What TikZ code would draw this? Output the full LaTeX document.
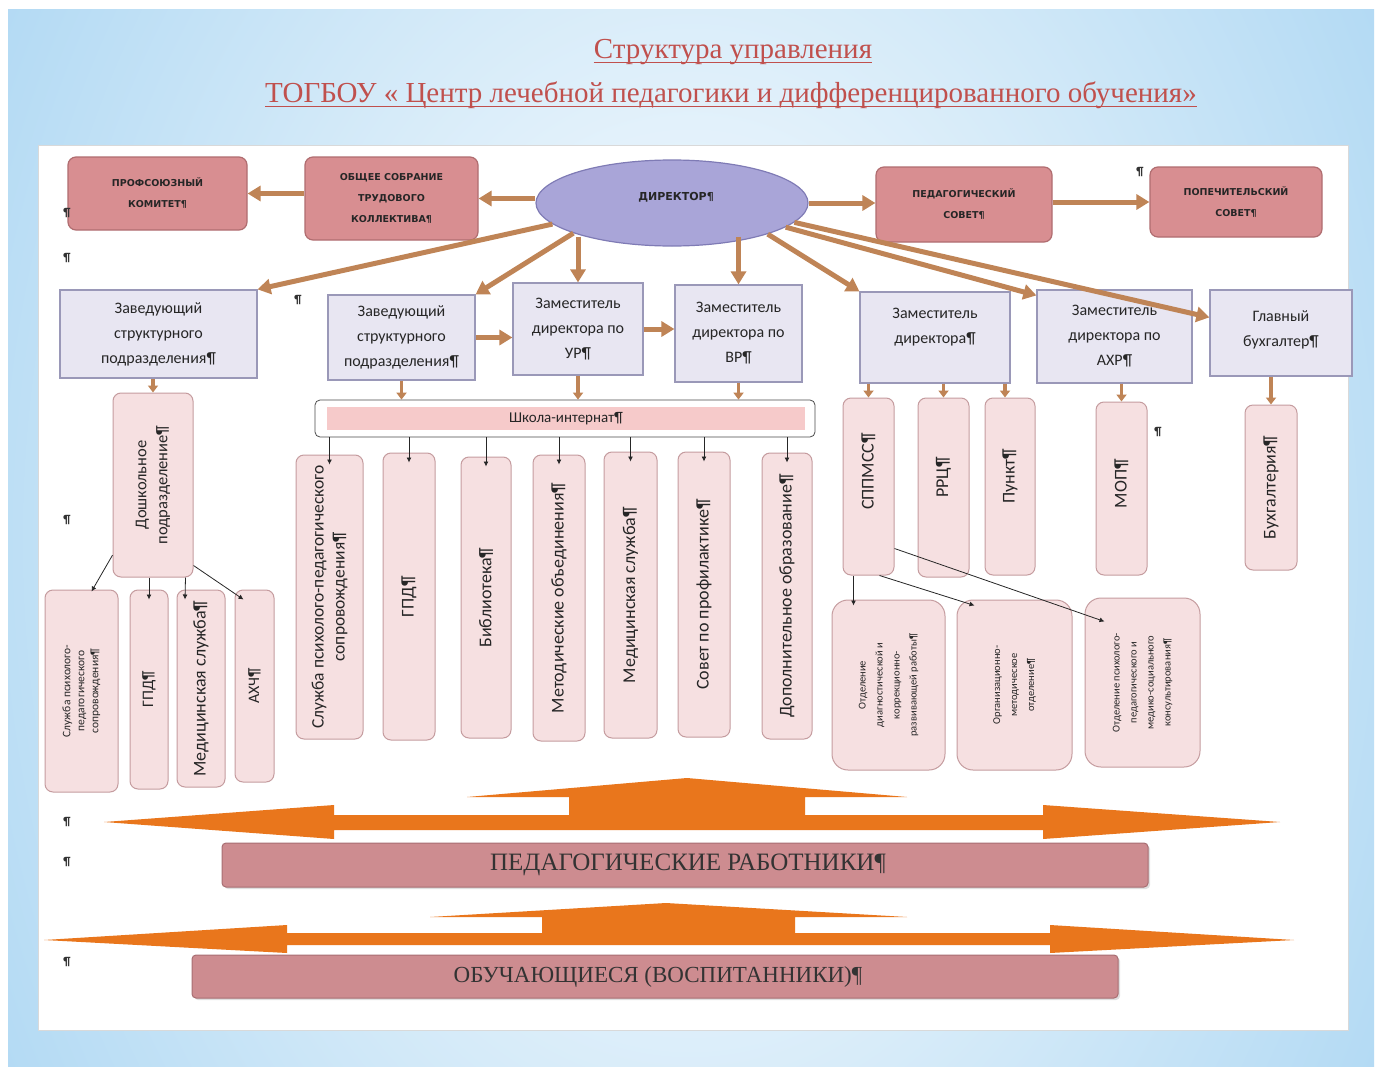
\documentclass[tikz,border=0pt]{standalone}
\usepackage{fontspec}
\setmainfont{Liberation Serif}
\newfontfamily\boxfont{Carlito}
\newfontfamily\capsfont{DejaVu Sans}
\usetikzlibrary{arrows.meta,fit,shapes.geometric,calc,shadows}
\definecolor{titlered}{HTML}{C0504D}
\definecolor{topfill}{HTML}{D88E91}
\definecolor{topdraw}{HTML}{B06D70}
\definecolor{lavfill}{HTML}{E8E6F2}
\definecolor{lavdraw}{HTML}{9A98B8}
\definecolor{pinkfill}{HTML}{F6E0E1}
\definecolor{pinkdraw}{HTML}{C59C9F}
\definecolor{dirfill}{HTML}{A9A5D8}
\definecolor{dirdraw}{HTML}{7F7BB5}
\definecolor{brownarr}{HTML}{BF8456}
\definecolor{orangearr}{HTML}{E9761C}
\definecolor{botfill}{HTML}{CD8C90}
\definecolor{botdraw}{HTML}{A86E72}
\definecolor{skyblue}{HTML}{A9D5F2}
\definecolor{barpink}{HTML}{F6CACA}
\begin{document}
\begin{tikzpicture}[x=1pt,y=-1pt,
  topbox/.style={draw=topdraw, fill=topfill, line width=1.2pt, rounded corners=8pt, inner sep=0pt},
  toptext/.style={align=center, inner sep=0pt, font=\capsfont\bfseries\fontsize{9.5}{21}\selectfont, text=black!85},
  lavbox/.style={draw=lavdraw, fill=lavfill, line width=1.2pt, inner sep=0pt},
  lavtext/.style={align=center, inner sep=0pt, font=\boxfont\fontsize{16}{25}\selectfont, text=black!85},
  pinkbox/.style={draw=pinkdraw, fill=pinkfill, line width=1pt, rounded corners=8pt, inner sep=0pt},
  bigpink/.style={pinkbox, rounded corners=16pt},
  vtext/.style={rotate=90, align=center, inner sep=0pt, text=black!85, font=\boxfont\fontsize{18}{20}\selectfont},
  vsmall/.style={vtext, font=\boxfont\fontsize{10.5}{17}\selectfont},
  bigarr/.style={draw=brownarr, line width=5pt, -{Triangle[length=13pt,width=15pt]}},
  smallarr/.style={draw=brownarr, line width=3.5pt, -{Triangle[length=7pt,width=10pt]}},
  thinarr/.style={draw=black!85, line width=0.8pt, -{Latex[length=5pt,width=5pt]}},
  botbox/.style={draw=botdraw, fill=botfill, line width=1pt, rounded corners=4pt, inner sep=0pt, drop shadow={opacity=0.25, shadow xshift=2pt, shadow yshift=-2pt}},
  bottext/.style={inner sep=0pt, text=black!80},
  pil/.style={inner sep=0pt, font=\boxfont\bfseries\fontsize{12}{12}\selectfont, text=black!80}
]
\useasboundingbox (0,0) rectangle (1381,1073);
\fill[white] (0,0) rectangle (1381,1073);
\begin{scope}
\clip (8,10) rectangle (1374,1066);
\shade[inner color=white, outer color=skyblue] (-200,-700) rectangle (1580,1780);
\end{scope}
\fill[white, draw=black!15] (38,145) rectangle (1348,1030);

% title
\node[text=titlered, font=\fontsize{29}{32}\selectfont, inner sep=0pt] (t1) at (733,52) {Структура управления};
\node[text=titlered, font=\fontsize{29}{32}\selectfont, inner sep=0pt] (t2) at (731,95) {ТОГБОУ « Центр лечебной педагогики и дифференцированного обучения»};
\draw[titlered, line width=1.3pt] ([yshift=-4pt]t1.base west) -- ([yshift=-4pt]t1.base east);
\draw[titlered, line width=1.3pt] ([yshift=-4pt]t2.base west) -- ([yshift=-4pt]t2.base east);

% top row
\node[topbox, fit={(68,157)(247,230)}] (prof) {};
\node[toptext] (prof-t) at (prof.center) {ПРОФСОЮЗНЫЙ\\КОМИТЕТ¶};
\node[topbox, fit={(305,157)(478,240)}] (obsh) {};
\node[toptext] (obsh-t) at (obsh.center) {ОБЩЕЕ СОБРАНИЕ\\ТРУДОВОГО\\КОЛЛЕКТИВА¶};
\node[ellipse, draw=dirdraw, fill=dirfill, line width=1.2pt, minimum width=272pt, minimum height=86pt] (dir) at (672,203) {};
\node[toptext, font=\capsfont\bfseries\fontsize{11}{12}\selectfont] (dir-t) at (676,197) {ДИРЕКТОР¶};
\node[topbox, fit={(876,167)(1052,242)}] (pedsov) {};
\node[toptext] (pedsov-t) at (pedsov.center) {ПЕДАГОГИЧЕСКИЙ\\СОВЕТ¶};
\node[topbox, fit={(1150,167)(1322,237)}] (popsov) {};
\node[toptext] (popsov-t) at (popsov.center) {ПОПЕЧИТЕЛЬСКИЙ\\СОВЕТ¶};

% second row
\node[lavbox, fit={(60,290)(257,378)}] (zav1) {};
\node[lavtext] (zav1-t) at (zav1.center) {Заведующий\\структурного\\подразделения¶};
\node[lavbox, fit={(328,295)(475,380)}] (zav2) {};
\node[lavtext] (zav2-t) at (zav2.center) {Заведующий\\структурного\\подразделения¶};
\node[lavbox, fit={(513,283)(643,375)}] (zamur) {};
\node[lavtext] (zamur-t) at (zamur.center) {Заместитель\\директора по\\УР¶};
\node[lavbox, fit={(675,285)(802,382)}] (zamvr) {};
\node[lavtext] (zamvr-t) at (zamvr.center) {Заместитель\\директора по\\ВР¶};
\node[lavbox, fit={(860,292)(1010,383)}] (zamd) {};
\node[lavtext] (zamd-t) at ([yshift=10pt]zamd.center) {Заместитель\\директора¶};
\node[lavbox, fit={(1037,290)(1192,383)}] (zamahr) {};
\node[lavtext] (zamahr-t) at (zamahr.center) {Заместитель\\директора по\\АХР¶};
\node[lavbox, fit={(1210,290)(1352,376)}] (glb) {};
\node[lavtext] (glb-t) at ([yshift=3pt]glb.center) {Главный\\бухгалтер¶};

% school
\node[draw=black!70, fill=white, line width=0.8pt, rounded corners=5pt, inner sep=0pt, fit={(315,400)(815,437)}] (shk) {};
\node[fill=barpink, inner sep=0pt, fit={(327,407)(805,430)}] (shkbar) {};
\node[inner sep=0pt, font=\boxfont\fontsize{15}{16}\selectfont, text=black!85] (shk-t) at (shkbar.center) {Школа-интернат¶};

% vertical boxes
\node[pinkbox, fit={(113,393)(193,577)}] (doshk) {};
\node[vtext, font=\boxfont\fontsize{16.5}{21}\selectfont] (doshk-t) at (doshk) {Дошкольное\\подразделение¶};
\node[pinkbox, fit={(45,590)(118,792)}] (sl1) {};
\node[vtext, font=\boxfont\fontsize{11.5}{14}\selectfont] (sl1-t) at (sl1) {Служба психолого-\\педагогического\\сопровождения¶};
\node[pinkbox, fit={(130,590)(168,789)}] (gpd1) {};
\node[vtext, font=\boxfont\fontsize{16}{18}\selectfont] (gpd1-t) at (gpd1) {ГПД¶};
\node[pinkbox, fit={(177,590)(225,787)}] (med1) {};
\node[vtext, font=\boxfont\fontsize{18}{18}\selectfont] (med1-t) at (med1) {Медицинская служба¶};
\node[pinkbox, fit={(235,590)(274,782)}] (ahch) {};
\node[vtext, font=\boxfont\fontsize{16}{18}\selectfont] (ahch-t) at (ahch) {АХЧ¶};

\node[pinkbox, fit={(296,455)(363,739)}] (sl2) {};
\node[vtext, font=\boxfont\fontsize{17.5}{21}\selectfont] (sl2-t) at (sl2) {Служба психолого-педагогического\\сопровождения¶};
\node[pinkbox, fit={(383,453)(435,740)}] (gpd2) {};
\node[vtext] (gpd2-t) at (gpd2) {ГПД¶};
\node[pinkbox, fit={(461,457)(511,738)}] (bib) {};
\node[vtext] (bib-t) at (bib) {Библиотека¶};
\node[pinkbox, fit={(533,455)(585,741)}] (metod) {};
\node[vtext] (metod-t) at (metod) {Методические объединения¶};
\node[pinkbox, fit={(604,452)(657,738)}] (med2) {};
\node[vtext] (med2-t) at (med2) {Медицинская служба¶};
\node[pinkbox, fit={(678,452)(730,737)}] (sovet) {};
\node[vtext] (sovet-t) at (sovet) {Совет по профилактике¶};
\node[pinkbox, fit={(762,453)(812,739)}] (dop) {};
\node[vtext] (dop-t) at (dop) {Дополнительное образование¶};

\node[pinkbox, fit={(843,398)(894,575)}] (sppmss) {};
\node[vtext] (sppmss-t) at ([yshift=15pt]sppmss.center) {СППМСС¶};
\node[pinkbox, fit={(918,398)(969,577)}] (rrc) {};
\node[vtext] (rrc-t) at ([yshift=10pt]rrc.center) {РРЦ¶};
\node[pinkbox, fit={(985,398)(1035,575)}] (punkt) {};
\node[vtext] (punkt-t) at ([yshift=10pt]punkt.center) {Пункт¶};
\node[pinkbox, fit={(1096,402)(1147,575)}] (mop) {};
\node[vtext] (mop-t) at ([yshift=5pt]mop.center) {МОП¶};
\node[pinkbox, fit={(1245,405)(1297,570)}] (buh) {};
\node[vtext] (buh-t) at (buh) {Бухгалтерия¶};

\node[bigpink, fit={(832,600)(945,770)}] (otd1) {};
\node[vsmall] (otd1-t) at (otd1) {Отделение\\диагностической и\\коррекционно-\\развивающей работы¶};
\node[bigpink, fit={(957,600)(1072,770)}] (otd2) {};
\node[vsmall] (otd2-t) at (otd2) {Организационно-\\методическое\\отделение¶};
\node[bigpink, fit={(1085,598)(1200,767)}] (otd3) {};
\node[vsmall] (otd3-t) at (otd3) {Отделение психолого-\\педагогического и\\медико-социального\\консультирования¶};

% brown arrows, top
\draw[bigarr] (dir.west |- obsh.east) -- (obsh.east);
\draw[bigarr] (obsh.west |- prof.east) -- (prof.east);
\draw[bigarr] (dir.east) -- (dir.east -| pedsov.west);
\draw[bigarr] (pedsov.east |- popsov.east) -- (popsov.west);
% director fan
\draw[bigarr] (dir.190) -- (zav1.north east);
\draw[bigarr] (dir.197) -- (zav2.north east);
\draw[bigarr, shorten <=-10pt] (zamur.north |- dir.south) -- (zamur.north);
\draw[bigarr, shorten <=-10pt] (zamvr.north |- dir.south) -- (zamvr.north);
\draw[bigarr] (dir.-18) -- (zamd.north west);
\draw[bigarr] (dir.-12) -- ([yshift=-6pt]zamahr.north west);
\draw[bigarr] (dir.-9) -- ([yshift=-28pt]glb.north west);
\draw[bigarr] (zav2.east) -- (zav2.east -| zamur.west);
\draw[bigarr] (zamur.east) -- (zamur.east -| zamvr.west);
% small brown down arrows
\draw[smallarr] (doshk.north |- zav1.south) -- (doshk.north);
\draw[smallarr] (zav2.south) -- (zav2.south |- shk.north);
\draw[smallarr] (zamur.south) -- (zamur.south |- shk.north);
\draw[smallarr] (zamvr.south) -- (zamvr.south |- shk.north);
\draw[smallarr] (sppmss.north |- zamd.south) -- (sppmss.north);
\draw[smallarr] (rrc.north |- zamd.south) -- (rrc.north);
\draw[smallarr] ([xshift=-5pt]punkt.north |- zamd.south) -- ([xshift=-5pt]punkt.north);
\draw[smallarr] (mop.north |- zamahr.south) -- (mop.north);
\draw[smallarr] (buh.north |- glb.south) -- (buh.north);

% thin connectors
\foreach \b in {sl2,gpd2,bib,metod,med2,sovet,dop}{
  \draw[thinarr, shorten >=-10pt] (shk.south -| \b.north) -- (\b.north);
}
\draw[thinarr] (doshk.240) -- ([xshift=10pt,yshift=-2pt]sl1.north);
\draw[thinarr, shorten >=-10pt] (gpd1.north |- doshk.south) -- (gpd1.north);
\draw[thinarr] ([xshift=-8pt]doshk.south east) -- ([xshift=-16pt,yshift=-10pt]med1.north);
\draw[thinarr] ([yshift=12pt]doshk.south east) -- ([xshift=-11pt,yshift=-10pt]ahch.north);
\draw[thinarr, shorten >=-6pt] ([xshift=-15pt]sppmss.south) -- ([xshift=-15pt]sppmss.south |- otd1.north);
\draw[thinarr] ([xshift=11pt]sppmss.south) -- ([xshift=-40pt,yshift=-6pt]otd2.north);
\draw[thinarr] ([yshift=27pt]sppmss.south east) -- ([xshift=20pt,yshift=-24pt]otd3.north west);

% orange arrows
\fill[orangearr] (104,822) -- (334,805) -- (334,815) -- (569,815) -- (569,797) -- (467,797) -- (687,778) -- (907,797) -- (805,797) -- (805,815) -- (1043,815) -- (1043,805) -- (1280,822) -- (1043,839) -- (1043,830) -- (334,830) -- (334,839) -- cycle;
\fill[orangearr] (44,940) -- (287,925) -- (287,933) -- (542,933) -- (542,917) -- (430,917) -- (666,903) -- (907,917) -- (795,917) -- (795,933) -- (1050,933) -- (1050,925) -- (1294,940) -- (1050,953) -- (1050,945) -- (287,945) -- (287,953) -- cycle;

\node[botbox, fit={(222,843)(1148,887)}] (pedrab) {};
\node[bottext, font=\fontsize{25}{27}\selectfont] (pedrab-t) at ([xshift=3pt]pedrab.center) {ПЕДАГОГИЧЕСКИЕ РАБОТНИКИ¶};
\node[botbox, fit={(192,955)(1118,998)}] (obuch) {};
\node[bottext, font=\fontsize{23}{25}\selectfont] (obuch-t) at ([xshift=3pt]obuch.center) {ОБУЧАЮЩИЕСЯ (ВОСПИТАННИКИ)¶};

% stray paragraph marks
\node[pil] (p1) at (67,213) {¶};
\node[pil] (p2) at (67,258) {¶};
\node[pil] (p3) at (298,300) {¶};
\node[pil] (p4) at (67,520) {¶};
\node[pil] (p5) at (1140,172) {¶};
\node[pil] (p6) at (1158,432) {¶};
\node[pil] (p7) at (67,822) {¶};
\node[pil] (p8) at (67,862) {¶};
\node[pil] (p9) at (67,962) {¶};
\end{tikzpicture}
\end{document}
